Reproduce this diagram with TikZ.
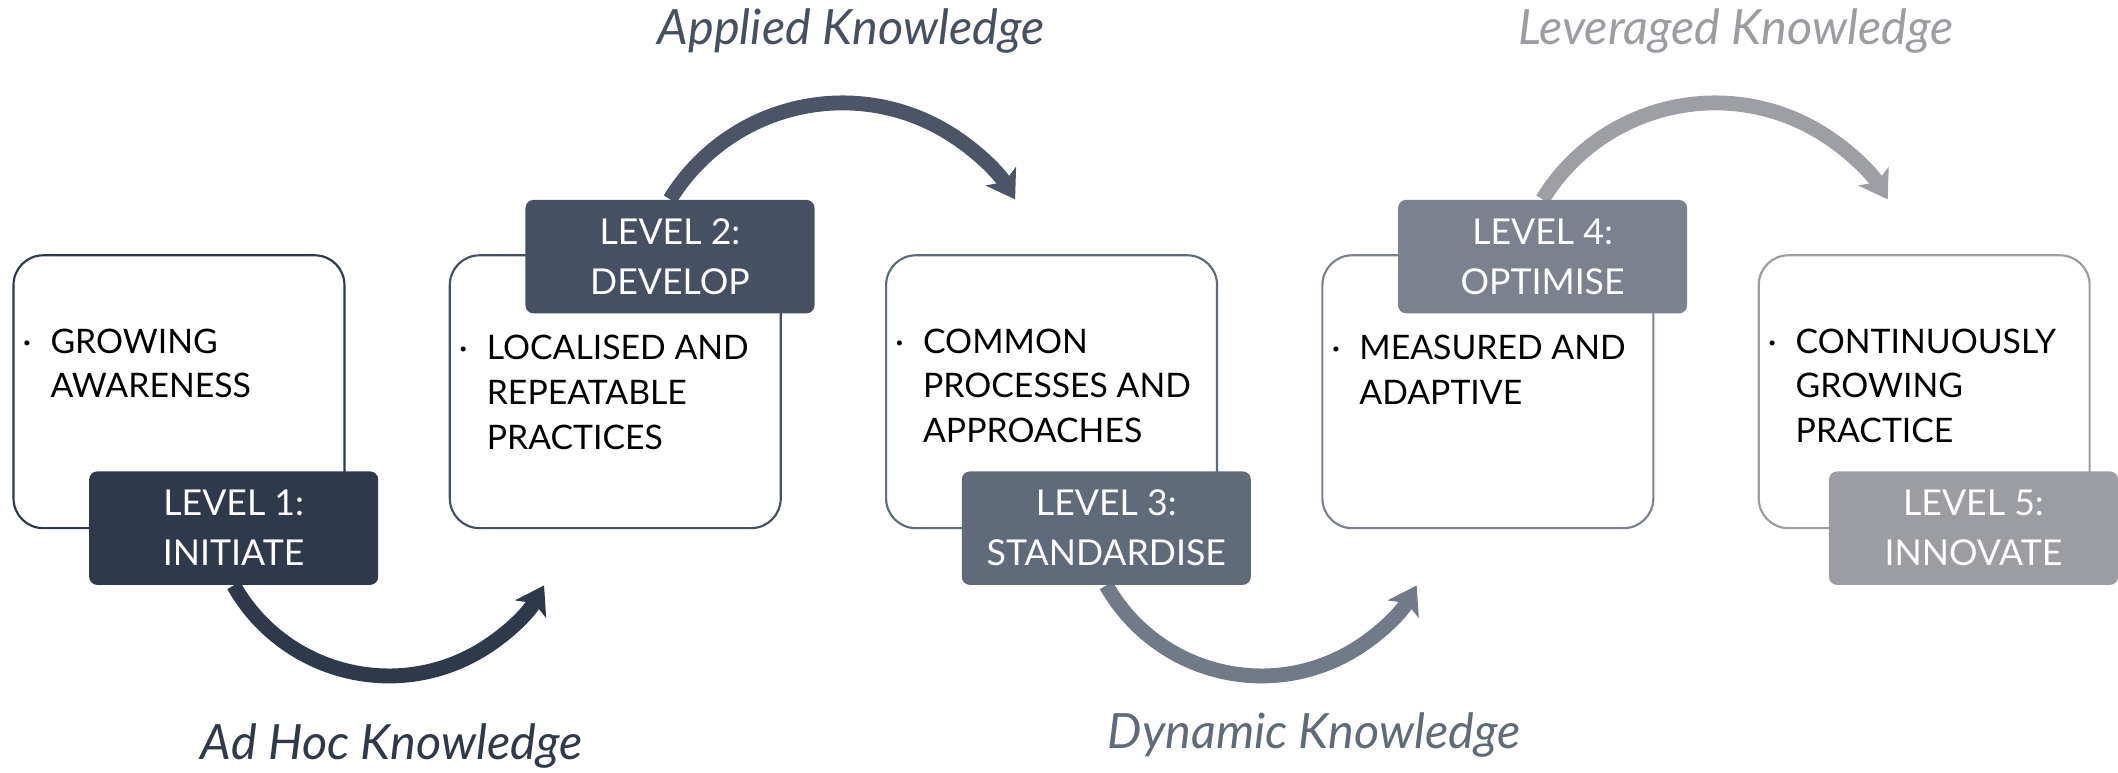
\documentclass[tikz,border=0pt]{standalone}
\usepackage{fontspec}
\setmainfont{Lato}
\usetikzlibrary{arrows.meta}
\definecolor{cA}{HTML}{2E3A4B}
\definecolor{cB}{HTML}{465063}
\definecolor{cC}{HTML}{5F6A7B}
\definecolor{cD}{HTML}{7B818E}
\definecolor{cE}{HTML}{9B9DA2}
\definecolor{aB}{HTML}{4B5567}
\definecolor{aC}{HTML}{717A89}
\definecolor{aD}{HTML}{9D9FA4}
\pgfdeclarelayer{bg}
\pgfsetlayers{bg,main}
\begin{document}
\begin{tikzpicture}[x=0.5pt,y=-0.5pt,
  box/.style={draw, line width=0.8pt, rounded corners=11pt, minimum width=122.5pt, minimum height=101pt, inner sep=0pt},
  lvl/.style={fill, rounded corners=3pt, minimum width=107pt, minimum height=42pt, inner sep=0pt, text=white, align=center, font=\fontsize{13.2}{18.5}\selectfont},
  body/.style={anchor=base west, inner sep=0pt, align=left, text=black, font=\fontsize{12.5}{16.5}\selectfont},
  bul/.style={anchor=base, inner sep=0pt, text=black, font=\fontsize{12.5}{16.5}\selectfont},
  know/.style={font=\fontsize{18}{21}\selectfont\itshape, inner sep=0pt},
  flow/.style={line width=5.5pt, -{Stealth[length=10pt,width=13pt,inset=2.5pt]}},
]
\useasboundingbox (0,0) rectangle (1568,572);
% outlined boxes
\node[box, draw=cA] (b1) at (132.5,290) {};
\node[box, draw=cB] (b2) at (455.5,290) {};
\node[box, draw=cC] (b3) at (778.5,290) {};
\node[box, draw=cD] (b4) at (1101.5,290) {};
\node[box, draw=cE] (b5) at (1424.5,290) {};
% body texts (anchor = baseline of the last line)
\node[body] (t1) at (37,294.5) {GROWING\\AWARENESS};
\node[bul] (d1) at (20,261.5) {·};
\node[body] (t2) at (360,332.5) {LOCALISED AND\\REPEATABLE\\PRACTICES};
\node[bul] (d2) at (343,266.5) {·};
\node[body] (t3) at (683,327.5) {COMMON\\PROCESSES AND\\APPROACHES};
\node[bul] (d3) at (666,261.5) {·};
\node[body] (t4) at (1006,299.5) {MEASURED AND\\ADAPTIVE};
\node[bul] (d4) at (989,266.5) {·};
\node[body] (t5) at (1329,327.5) {CONTINUOUSLY\\GROWING\\PRACTICE};
\node[bul] (d5) at (1312,261.5) {·};
% level labels
\node[lvl, fill=cA] (l1) at (173,391) {LEVEL 1:\\INITIATE};
\node[lvl, fill=cB] (l2) at (496,190) {LEVEL 2:\\DEVELOP};
\node[lvl, fill=cC] (l3) at (819,391) {LEVEL 3:\\STANDARDISE};
\node[lvl, fill=cD] (l4) at (1142,190) {LEVEL 4:\\OPTIMISE};
\node[lvl, fill=cE] (l5) at (1461,391) {LEVEL 5:\\INNOVATE};
% knowledge captions
\node[know, text=cA] (k1) at (290,552) {Ad Hoc Knowledge};
\node[know, text=cB] (k2) at (630,23) {Applied Knowledge};
\node[know, text=cC] (k3) at (973,544) {Dynamic Knowledge};
\node[know, text=cE] (k4) at (1285,23) {Leveraged Knowledge};
% arrows
\begin{pgfonlayer}{bg}
\draw[flow, color=cA] (l1.south) arc[start angle=150.5, end angle=29.5, radius=132] coordinate (e1);
\draw[flow, color=aB] (l2.north) arc[start angle=211.6, end angle=328.4, radius=150] coordinate (e2);
\draw[flow, color=aC] (l3.south) arc[start angle=150.5, end angle=29.5, radius=132] coordinate (e3);
\draw[flow, color=aD] (l4.north) arc[start angle=211.6, end angle=328.4, radius=150] coordinate (e4);
\end{pgfonlayer}
\end{tikzpicture}
\end{document}
